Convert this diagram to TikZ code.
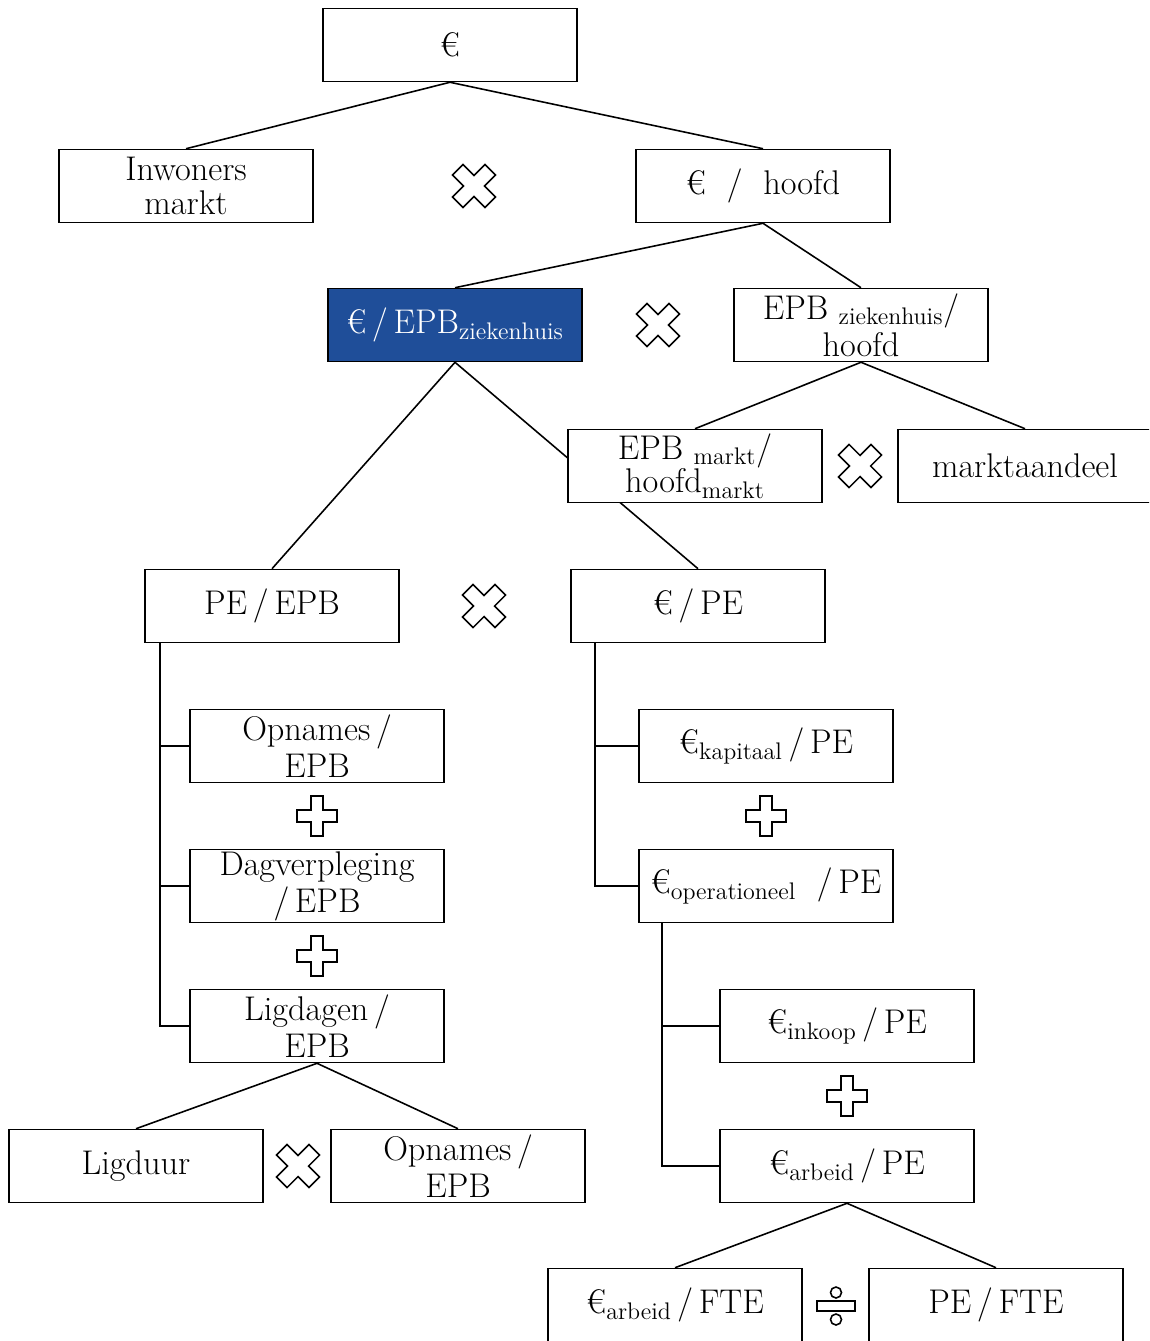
\documentclass[tikz,border=0pt]{standalone}
\usetikzlibrary{backgrounds}
\definecolor{ziekblauw}{HTML}{1F4E99}
\newcommand{\ix}[1]{\textsubscript{#1}}
\begin{document}
\begin{tikzpicture}[x=0.02cm,y=-0.02cm,
  lijn/.style={line width=0.9pt},
  blok/.style={draw,fill=white,line width=0.9pt,minimum width=5.08cm,
    minimum height=1.46cm,inner sep=0pt,align=center,
    font=\fontsize{19.5}{21}\selectfont},
  krap/.style={font=\fontsize{19.5}{19}\selectfont},
  pics/maal/.style={code={\draw[lijn,rotate=45]
    (7.5,7.5) -- (7.5,23) -- (-7.5,23) -- (-7.5,7.5) -- (-23,7.5) -- (-23,-7.5)
    -- (-7.5,-7.5) -- (-7.5,-23) -- (7.5,-23) -- (7.5,-7.5) -- (23,-7.5) -- (23,7.5) -- cycle;}},
  pics/som/.style={code={\draw[lijn]
    (6,6) -- (6,20) -- (-6,20) -- (-6,6) -- (-20,6) -- (-20,-6)
    -- (-6,-6) -- (-6,-20) -- (6,-20) -- (6,-6) -- (20,-6) -- (20,6) -- cycle;}},
  pics/deel/.style={code={\draw[lijn] (-19,-5) rectangle (19,5);
    \draw[lijn] (0,-13.5) circle[radius=5.5] (0,13.5) circle[radius=5.5];}}]
  \clip (0,0) rectangle (1149,1341);
  % Top
  \node[blok] (euro) at (450,45) {€};
  \node[blok,krap] (inw) at (186,186) {Inwoners\\markt};
  \node[blok] (hoofd) at (763,186) {€~~/~~hoofd};
  % Ziekenhuis
  \node[blok,fill=ziekblauw,text=white] (epbz) at (455,325) {€\,/\,EPB\ix{ziekenhuis}};
  \node[blok] (epbzh) at (861,325) {EPB \ix{ziekenhuis}/\\hoofd};
  % Markt
  \node[blok,krap] (epbm) at (695,466) {EPB \ix{markt}/\\hoofd\ix{markt}};
  \node[blok] (aandeel) at (1025,466) {marktaandeel};
  % Productie
  \node[blok] (pepb) at (272,606) {PE\,/\,EPB};
  \node[blok] (eupe) at (698,606) {€\,/\,PE};
  % Left branch
  \node[blok] (opn) at (317,746) {Opnames\,/\\EPB};
  \node[blok] (dag) at (317,886) {Dagverpleging\\/\,EPB};
  \node[blok] (lig) at (317,1026) {Ligdagen\,/\\EPB};
  \node[blok] (duur) at (136,1166) {Ligduur};
  \node[blok] (opn2) at (458,1166) {Opnames\,/\\EPB};
  % Right branch
  \node[blok] (kap) at (766,746) {€\ix{kapitaal}\,/\,PE};
  \node[blok] (oper) at (766,886) {€\ix{operationeel}~~/\,PE};
  \node[blok] (ink) at (847,1026) {€\ix{inkoop}\,/\,PE};
  \node[blok] (arb) at (847,1166) {€\ix{arbeid}\,/\,PE};
  \node[blok] (arbfte) at (675,1305) {€\ix{arbeid}\,/\,FTE};
  \node[blok] (pefte) at (996,1305) {PE\,/\,FTE};
  % Connectors
  \begin{pgfonlayer}{background}
    \draw[lijn] (inw.north) -- (euro.south) -- (hoofd.north);
    \draw[lijn] (epbz.north) -- (hoofd.south) -- (epbzh.north);
    \draw[lijn] (epbm.north) -- (epbzh.south) -- (aandeel.north);
    \draw[lijn] (pepb.north) -- (epbz.south) -- (eupe.north);
    \draw[lijn] (duur.north) -- (lig.south) -- (opn2.north);
    \draw[lijn] (arbfte.north) -- (arb.south) -- (pefte.north);
  \end{pgfonlayer}
  \draw[lijn] (pepb.south west) ++(16,0) |- (opn.west);
  \draw[lijn] (pepb.south west) ++(16,0) |- (dag.west);
  \draw[lijn] (pepb.south west) ++(16,0) |- (lig.west);
  \draw[lijn] (eupe.south west) ++(25,0) |- (kap.west);
  \draw[lijn] (eupe.south west) ++(25,0) |- (oper.west);
  \draw[lijn] (oper.south west) ++(24,0) |- (ink.west);
  \draw[lijn] (oper.south west) ++(24,0) |- (arb.west);
  % Operators
  \pic at (474,186) {maal};
  \pic at (658,325) {maal};
  \pic at (860,466) {maal};
  \pic at (484,606) {maal};
  \pic at (298,1166) {maal};
  \pic at (317,816) {som};
  \pic at (317,956) {som};
  \pic at (766,816) {som};
  \pic at (847,1096) {som};
  \pic at (836,1306) {deel};
\end{tikzpicture}
\end{document}
